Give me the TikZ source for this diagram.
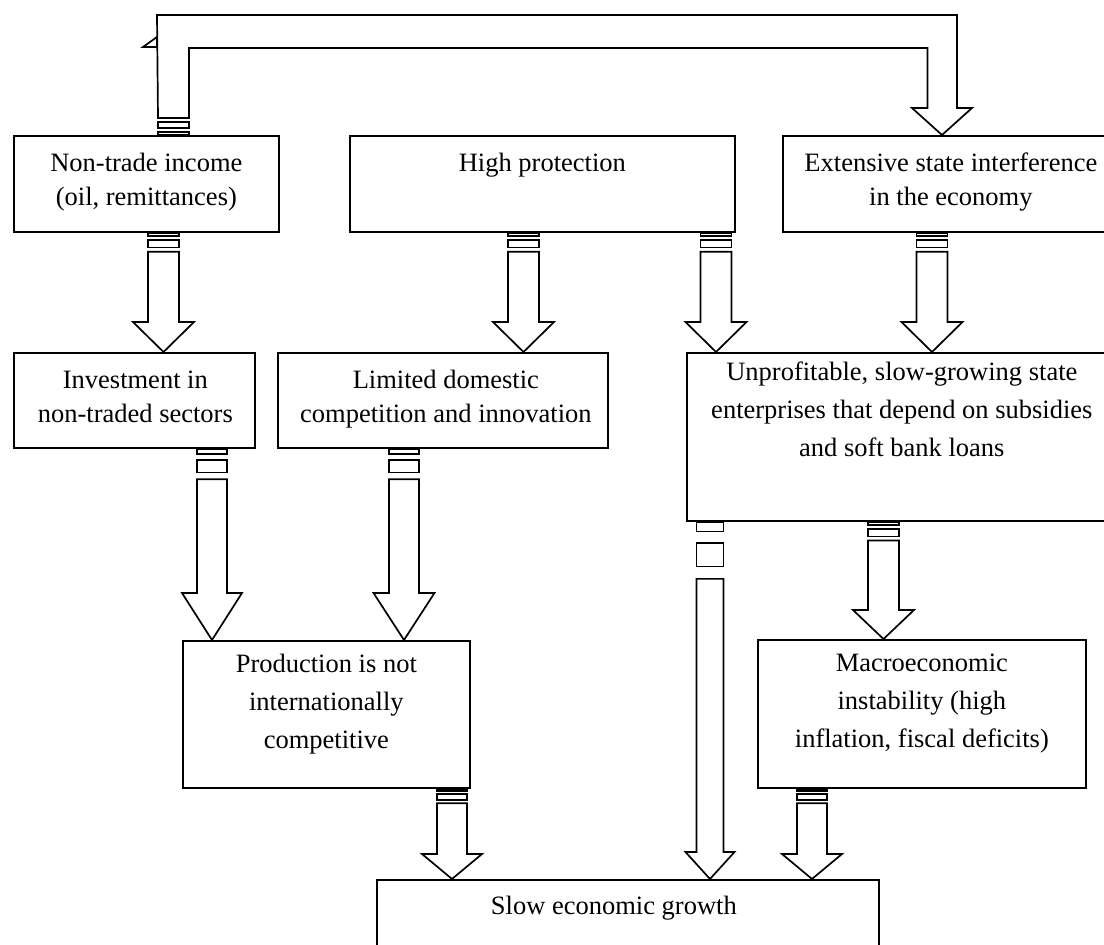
\documentclass[tikz,border=0pt]{standalone}
\usepackage{fontspec}
\setmainfont{Liberation Serif}
\usetikzlibrary{positioning,calc}

% hollow block arrow: x, from, to, half shaft, half head, head length
\newcommand{\fatarrow}[6]{%
  \coordinate (s) at (#2.south -| #1,0);
  \coordinate (t) at (#3.north -| #1,0);
  \draw ($(s)+(-#4,0)$) rectangle ($(s)!0.027!(t)+(#4,0)$);
  \draw ($(s)!0.06!(t)+(-#4,0)$) rectangle ($(s)!0.125!(t)+(#4,0)$);
  \draw ($(s)!0.16!(t)+(-#4,0)$) -- ($(t)+(-#4,-#6)$) -- ($(t)+(-#5,-#6)$) -- (t)
    -- ($(t)+(#5,-#6)$) -- ($(t)+(#4,-#6)$) -- ($(s)!0.16!(t)+(#4,0)$) -- cycle;
}

\begin{document}
\begin{tikzpicture}[x=1pt,y=-1pt,line width=1.7pt,
    box/.style={draw,anchor=north west,inner sep=0pt},
    txt/.style={align=center,inner sep=0pt,font=\fontsize{26.5}{34}\selectfont},
    txtb/.style={txt,font=\fontsize{26.5}{38}\selectfont}]
        \useasboundingbox (0,0) rectangle (1104,945);

        \node[box,minimum width=265,minimum height=96] (nt) at (13,135) {};
        \node[box,minimum width=385,minimum height=96] (hp) at (349,135) {};
        \node[box,minimum width=336,minimum height=96] (ex) at (782,135) {};
        \node[box,minimum width=241,minimum height=95] (iv) at (13,352) {};
        \node[box,minimum width=330,minimum height=95] (ld) at (277,352) {};
        \node[box,minimum width=430,minimum height=168] (up) at (686,352) {};
        \node[box,minimum width=287,minimum height=147] (pr) at (182,640) {};
        \node[box,minimum width=328,minimum height=148] (ma) at (757,639) {};
        \node[box,minimum width=502,minimum height=90] (sl) at (376,879) {};

        \node[txt] (ntl) [below=12pt of nt.north] {\strut Non-trade income\\(oil, remittances)};
        \node[txt] (hpl) [below=12pt of hp.north] {\strut High protection};
        \node[txt] (exl) [below=12pt of ex.north] {\strut Extensive state interference\\in the economy};
        \node[txt] (ivl) [below=12pt of iv.north,xshift=1pt] {\strut Investment in\\non-traded sectors};
        \node[txt] (ldl) [below=12pt of ld.north,xshift=3pt] {\strut Limited domestic\\competition and innovation};
        \node[txtb] (upl) [below=1pt of up.north] {\strut Unprofitable, slow-growing state\\enterprises that depend on subsidies\\and soft bank loans};
        \node[txtb] (prl) [below=5pt of pr.north] {\strut Production is not\\internationally\\competitive};
        \node[txtb] (mal) [below=5pt of ma.north] {\strut Macroeconomic\\instability (high\\inflation, fiscal deficits)};
        \node[txt] (sll) [below=11pt of sl.north,xshift=-14pt] {\strut Slow economic growth};

        % loop from non-trade income over to state interference
        \coordinate (la) at (nt.north -| 173.5,0);
        \coordinate (ra) at (ex.north -| 942,0);
        \draw ($(la)+(-15.5,-3)$) rectangle ($(la)+(15.5,0)$);
        \draw ($(la)+(-15.5,-13)$) rectangle ($(la)+(15.5,-7)$);
        \draw ($(la)+(15.5,-17)$) -- ($(la)+(15.5,-87)$) -- ($(ra)+(-14.5,-87)$) -- ($(ra)+(-14.5,-27)$)
            -- ($(ra)+(-30,-27)$) -- (ra) -- ($(ra)+(30,-27)$) -- ($(ra)+(15,-27)$) -- ($(ra)+(15,-120)$)
            -- ($(la)+(-16.5,-120)$) -- ($(la)+(-15.5,-17)$) -- cycle;
        \draw ($(la)+(-30.5,-88)$) -- ($(la)+(-16.5,-98)$) -- ($(la)+(-16.5,-88)$) -- cycle;

        \fatarrow{163.5}{nt}{iv}{15.5}{30.5}{30}
        \fatarrow{523.5}{hp}{ld}{15.5}{30.5}{30}
        \fatarrow{716}{hp}{up}{15.5}{30.5}{30}
        \fatarrow{932}{ex}{up}{15.5}{30.5}{30}
        \fatarrow{212}{iv}{pr}{15}{30}{47}
        \fatarrow{404}{ld}{pr}{15}{30.5}{47}
        \fatarrow{710}{up}{sl}{13.5}{24.5}{27}
        \fatarrow{883.5}{up}{ma}{15.5}{30.5}{29}
        \fatarrow{452}{pr}{sl}{15}{30}{25}
        \fatarrow{812}{ma}{sl}{15}{30}{25}
    \end{tikzpicture}
\end{document}
